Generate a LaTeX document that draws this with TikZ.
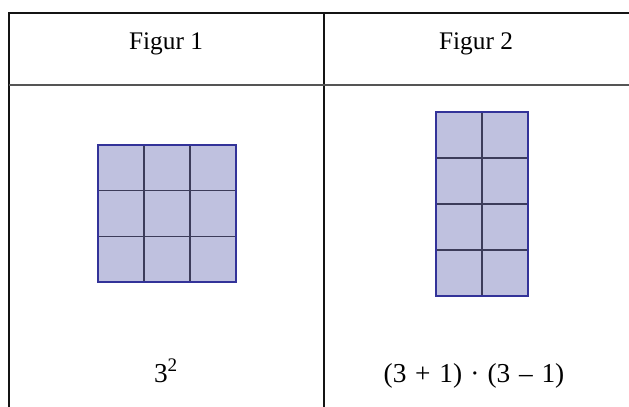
\documentclass[tikz,border=0pt]{standalone}
\usepackage{fontspec}
\setmainfont{Liberation Serif}
\definecolor{cellfill}{RGB}{191,193,223}
\definecolor{gridedge}{RGB}{51,51,153}
\definecolor{gridline}{RGB}{60,60,90}
\definecolor{tableline}{RGB}{20,20,20}
\definecolor{headline}{RGB}{85,85,85}
\tikzset{
  lbl/.style={font=\fontsize{19}{22}\selectfont, inner sep=0pt, anchor=base},
  flbl/.style={font=\fontsize{20.5}{24}\selectfont, inner sep=0pt, anchor=base},
  tline/.style={draw=tableline, line width=1.5pt},
  hline/.style={draw=headline, line width=1.5pt},
}
\begin{document}
\begin{tikzpicture}[x=0.75pt,y=-0.75pt]
\useasboundingbox (0,0) rectangle (629,407);
% table
\draw[tline] (9,407) -- (9,13) -- (629,13);
\draw[tline] (324,13) -- (324,407);
\draw[hline] (9,85) -- (629,85);
% headers
\node[lbl] (h1) at (166,49) {Figur 1};
\node[lbl] (h2) at (476,49) {Figur 2};
% figure 1 grid
\fill[cellfill] (98,145) rectangle (236,282);
\foreach \i in {1,2} {
  \draw[gridline, line width=1pt] (98+46*\i,145) -- (98+46*\i,282);
  \draw[gridline, line width=1pt] (98,145+45.67*\i) -- (236,145+45.67*\i);
}
\draw[gridedge, line width=1.6pt] (98,145) rectangle (236,282);
% figure 2 grid
\fill[cellfill] (436,112) rectangle (528,296);
\draw[gridline, line width=1pt] (482,112) -- (482,296);
\foreach \j in {1,2,3} {
  \draw[gridline, line width=1pt] (436,112+46*\j) -- (528,112+46*\j);
}
\draw[gridedge, line width=1.6pt] (436,112) rectangle (528,296);
% labels
\node[flbl] (l1) at (166,382) {3\textsuperscript{2}};
\node[flbl] (l2) at (474,382) {(3\hspace{0.32em}+\hspace{0.32em}1)\hspace{0.3em}·\hspace{0.3em}(3\hspace{0.32em}–\hspace{0.32em}1)};
\end{tikzpicture}
\end{document}
